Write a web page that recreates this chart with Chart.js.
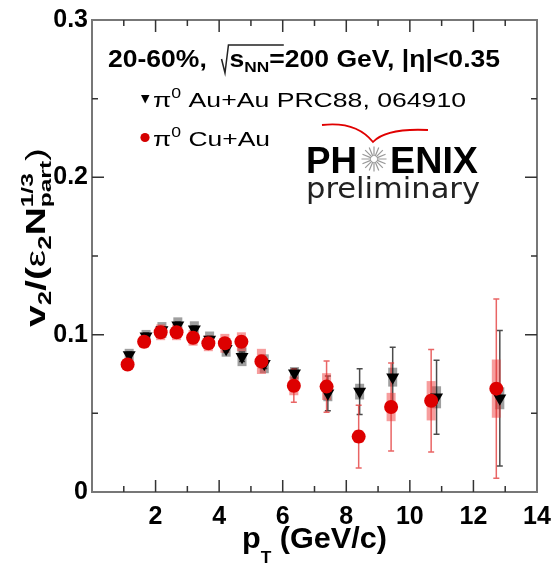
<!DOCTYPE html>
<html>
<head>
<meta charset="utf-8">
<script src="https://cdn.jsdelivr.net/npm/chart.js@4.4.0/dist/chart.umd.min.js"></script>
<style>
  html, body { margin: 0; padding: 0; background: #fff; }
  #wrap { width: 552px; height: 566px; }
</style>
</head>
<body>
<div id="wrap"><canvas id="v2Chart" width="552" height="566"></canvas></div>
<script>
// pi0 Cu+Au (red circles)
const ptCuAu = [1.12, 1.64, 2.16, 2.66, 3.18, 3.66, 4.18, 4.70, 5.33, 6.35, 7.38, 8.39, 9.41, 10.67, 12.72];
const v2CuAu = [0.081, 0.0955, 0.1015, 0.1015, 0.098, 0.0945, 0.0945, 0.0955, 0.083, 0.0675, 0.067, 0.0352, 0.054, 0.058, 0.0657];
const statCuAu = [0.002, 0.002, 0.002, 0.002, 0.002, 0.002, 0.0025, 0.003, 0.004, 0.0105, 0.0163, 0.020, 0.028, 0.0325, 0.057];
const sysCuAu = [0.003, 0.004, 0.005, 0.005, 0.005, 0.005, 0.006, 0.006, 0.008, 0.006, 0.0085, 0.004, 0.009, 0.0125, 0.0185];

// pi0 Au+Au PRC88 (black triangles)
const ptAuAu = [1.17, 1.70, 2.20, 2.70, 3.22, 3.70, 4.22, 4.72, 5.42, 6.37, 7.42, 8.42, 9.46, 10.84, 12.83];
const v2AuAu = [0.087, 0.099, 0.103, 0.106, 0.1035, 0.097, 0.091, 0.086, 0.0815, 0.0754, 0.0627, 0.0638, 0.073, 0.0602, 0.0596];
const statAuAu = [0.002, 0.002, 0.002, 0.002, 0.002, 0.002, 0.002, 0.003, 0.003, 0.003, 0.011, 0.0145, 0.019, 0.0235, 0.043];
const sysAuAu = [0.004, 0.004, 0.005, 0.005, 0.005, 0.005, 0.005, 0.006, 0.006, 0.004, 0.005, 0.005, 0.006, 0.007, 0.007];

const xTicks = [2, 4, 6, 8, 10, 12, 14];
const yTicks = [0, 0.1, 0.2, 0.3];

const FONT = 'Liberation Sans';

function toPoints(xs, ys) {
  return xs.map((x, i) => ({ x: x, y: ys[i] }));
}

// draws text pieces left to right, optionally squeezed/stretched to a width
function drawRuns(ctx, x, y, runs, targetWidth) {
  let natural = 0;
  runs.forEach((r) => {
    ctx.font = r.font || ctx.font;
    r.w = r.gap !== undefined ? r.gap : ctx.measureText(r.text).width;
    if (!r.noAdvance) natural += r.w;
  });
  const sx = targetWidth ? targetWidth / natural : 1;
  ctx.save();
  ctx.translate(x, y);
  ctx.scale(sx, 1);
  let cx = 0;
  runs.forEach((r) => {
    if (r.text) {
      ctx.font = r.font;
      ctx.fillStyle = r.color || '#000';
      ctx.fillText(r.text, cx, r.dy || 0);
    }
    if (r.draw) r.draw(ctx, cx);
    if (!r.noAdvance) cx += r.w;
  });
  ctx.restore();
}

const errorBars = {
  id: 'errorBars',
  beforeDatasetsDraw(chart) {
    const ctx = chart.ctx;
    const xs = chart.scales.x;
    const ys = chart.scales.y;
    const series = [
      { pt: ptAuAu, v: v2AuAu, stat: statAuAu, sys: sysAuAu, box: 'rgba(80,80,80,0.55)', bar: 'rgba(30,30,30,0.8)' },
      { pt: ptCuAu, v: v2CuAu, stat: statCuAu, sys: sysCuAu, box: 'rgba(240,60,60,0.5)', bar: 'rgba(225,50,50,0.75)' },
    ];
    ctx.save();
    series.forEach((s) => {
      s.pt.forEach((p, i) => {
        const px = xs.getPixelForValue(p);
        const top = ys.getPixelForValue(s.v[i] + s.sys[i]);
        const bot = ys.getPixelForValue(s.v[i] - s.sys[i]);
        ctx.fillStyle = s.box;
        ctx.fillRect(px - 4.5, top, 9, bot - top);
      });
      s.pt.forEach((p, i) => {
        const px = xs.getPixelForValue(p);
        const top = ys.getPixelForValue(s.v[i] + s.stat[i]);
        const bot = ys.getPixelForValue(s.v[i] - s.stat[i]);
        ctx.strokeStyle = s.bar;
        ctx.lineWidth = 1.5;
        ctx.beginPath();
        ctx.moveTo(px, top); ctx.lineTo(px, bot);
        ctx.moveTo(px - 3, top); ctx.lineTo(px + 3, top);
        ctx.moveTo(px - 3, bot); ctx.lineTo(px + 3, bot);
        ctx.stroke();
      });
    });
    ctx.restore();
  },
};

const frameAndText = {
  id: 'frameAndText',
  afterDraw(chart) {
    const ctx = chart.ctx;
    const a = chart.chartArea;
    const xs = chart.scales.x;
    const ys = chart.scales.y;
    ctx.save();

    // frame
    ctx.strokeStyle = '#777';
    ctx.lineWidth = 2;
    ctx.strokeRect(a.left, a.top, a.right - a.left, a.bottom - a.top);

    // ticks pointing inwards
    ctx.strokeStyle = '#333';
    ctx.lineWidth = 1.5;
    ctx.beginPath();
    for (let t = 1; t < 14; t++) {
      const px = xs.getPixelForValue(t);
      const len = t % 2 === 0 ? 12 : 6;
      ctx.moveTo(px, a.bottom); ctx.lineTo(px, a.bottom - len);
      ctx.moveTo(px, a.top); ctx.lineTo(px, a.top + len);
    }
    for (let k = 1; k < 6; k++) {
      const py = ys.getPixelForValue(k * 0.05);
      const len = k % 2 === 0 ? 12 : 6;
      ctx.moveTo(a.left, py); ctx.lineTo(a.left + len, py);
      ctx.moveTo(a.right, py); ctx.lineTo(a.right - len, py);
    }
    ctx.stroke();

    ctx.textBaseline = 'alphabetic';

    // header line, with a drawn square-root sign over s_NN
    drawRuns(ctx, 108, 67, [
      { text: '20-60%,  ', font: 'bold 23px ' + FONT },
      { gap: 7, draw: (c, x) => {
          c.strokeStyle = '#222'; c.lineWidth = 1.3;
          c.beginPath();
          c.moveTo(x, -8); c.lineTo(x + 3, 6); c.lineTo(x + 6, -22);
          c.lineTo(x + 54, -22);
          c.stroke();
        } },
      { text: 's', font: 'bold 23px ' + FONT },
      { text: 'NN', font: 'bold 15px ' + FONT, dy: 5 },
      { text: '=200 GeV, |η|<0.35', font: 'bold 23px ' + FONT },
    ], 392);

    // legend
    ctx.fillStyle = '#000';
    ctx.beginPath();
    ctx.moveTo(141, 95); ctx.lineTo(149.5, 95); ctx.lineTo(145.2, 103.5);
    ctx.closePath(); ctx.fill();
    drawRuns(ctx, 153, 107, [
      { text: 'π', font: '21px ' + FONT },
      { text: '0', font: '14px ' + FONT, dy: -9 },
      { text: ' Au+Au PRC88, 064910', font: '21px ' + FONT },
    ], 313);
    ctx.fillStyle = '#d40000';
    ctx.beginPath();
    ctx.arc(145, 137.5, 4.6, 0, Math.PI * 2);
    ctx.fill();
    drawRuns(ctx, 153, 146, [
      { text: 'π', font: '21px ' + FONT },
      { text: '0', font: '14px ' + FONT, dy: -9 },
      { text: ' Cu+Au', font: '21px ' + FONT },
    ], 117);

    // PHENIX preliminary logo
    ctx.strokeStyle = '#e00000';
    ctx.lineWidth = 1.8;
    ctx.beginPath();
    ctx.moveTo(322, 125);
    ctx.quadraticCurveTo(356, 121, 373, 142);
    ctx.quadraticCurveTo(386, 128, 428, 130);
    ctx.stroke();
    drawRuns(ctx, 306, 173, [{ text: 'PH', font: 'bold 37px ' + FONT }], 51);
    drawRuns(ctx, 390, 173, [{ text: 'ENIX', font: 'bold 37px ' + FONT }], 88);
    ctx.strokeStyle = '#999';
    ctx.lineWidth = 1.2;
    ctx.beginPath();
    for (let k = 0; k < 16; k++) {
      const ang = (k * Math.PI) / 8;
      ctx.moveTo(374 + Math.cos(ang) * 3, 159 + Math.sin(ang) * 3);
      ctx.lineTo(374 + Math.cos(ang) * 12.5, 159 + Math.sin(ang) * 12.5);
    }
    ctx.stroke();
    drawRuns(ctx, 306, 198, [{ text: 'preliminary', font: '28px "DejaVu Sans"', color: '#222' }], 174);

    // y title, rotated
    ctx.save();
    ctx.translate(45, 327);
    ctx.rotate(-Math.PI / 2);
    drawRuns(ctx, 0, 0, [
      { text: 'v', font: 'bold 27px ' + FONT },
      { text: '2', font: 'bold 18px ' + FONT, dy: 6 },
      { text: '/(', font: 'bold 27px ' + FONT },
      { text: 'ε', font: '27px ' + FONT },
      { text: '2', font: 'bold 18px ' + FONT, dy: 6 },
      { text: 'N', font: 'bold 27px ' + FONT },
      { text: '1/3', font: 'bold 17px ' + FONT, dy: -12, noAdvance: true },
      { text: 'part', font: 'bold 17px ' + FONT, dy: 6 },
      { text: ')', font: '27px ' + FONT },
    ], 179);
    ctx.restore();

    // x title
    drawRuns(ctx, 242, 548, [
      { text: 'p', font: 'bold 30px ' + FONT },
      { text: 'T', font: 'bold 17px ' + FONT, dy: 15 },
      { text: ' (GeV/c)', font: 'bold 30px ' + FONT },
    ], 145);

    ctx.restore();
  },
};

const context = document.getElementById('v2Chart').getContext('2d');
new Chart(context, {
  type: 'scatter',
  data: {
    datasets: [
      {
        label: 'π0 Cu+Au',
        data: toPoints(ptCuAu, v2CuAu),
        pointStyle: 'circle',
        pointRadius: 7,
        backgroundColor: '#dd0000',
        borderColor: '#dd0000',
        borderWidth: 0,
      },
      {
        label: 'π0 Au+Au PRC88, 064910',
        data: toPoints(ptAuAu, v2AuAu),
        pointStyle: 'triangle',
        rotation: 180,
        pointRadius: 7.5,
        backgroundColor: '#000',
        borderColor: '#000',
        borderWidth: 0,
      },
    ],
  },
  options: {
    responsive: false,
    animation: false,
    devicePixelRatio: 1,
    layout: { padding: { top: 20, right: 15, bottom: 0, left: 0 } },
    plugins: {
      legend: { display: false },
      tooltip: { enabled: false },
    },
    scales: {
      x: {
        type: 'linear',
        min: 0,
        max: 14,
        grid: { display: false, drawTicks: false, tickLength: 0 },
        border: { display: false },
        afterBuildTicks: (scale) => {
          scale.ticks = xTicks.map((v) => ({ value: v }));
        },
        ticks: {
          autoSkip: false,
          maxRotation: 0,
          padding: 10,
          color: '#000',
          font: { family: FONT, size: 25, weight: 'bold' },
        },
        afterFit: (scale) => {
          scale.height = 74;
          scale.paddingLeft = 0;
          scale.paddingRight = 0;
        },
      },
      y: {
        type: 'linear',
        min: 0,
        max: 0.3,
        grid: { display: false, drawTicks: false, tickLength: 0 },
        border: { display: false },
        afterBuildTicks: (scale) => {
          scale.ticks = yTicks.map((v) => ({ value: v }));
        },
        ticks: {
          autoSkip: false,
          padding: 4,
          color: '#000',
          font: { family: FONT, size: 25, weight: 'bold' },
          callback: (v) => (v === 0 ? '0' : v.toFixed(1)),
        },
        afterFit: (scale) => {
          scale.width = 92;
          scale.paddingTop = 0;
          scale.paddingBottom = 0;
        },
      },
    },
  },
  plugins: [errorBars, frameAndText],
});
</script>
</body>
</html>
